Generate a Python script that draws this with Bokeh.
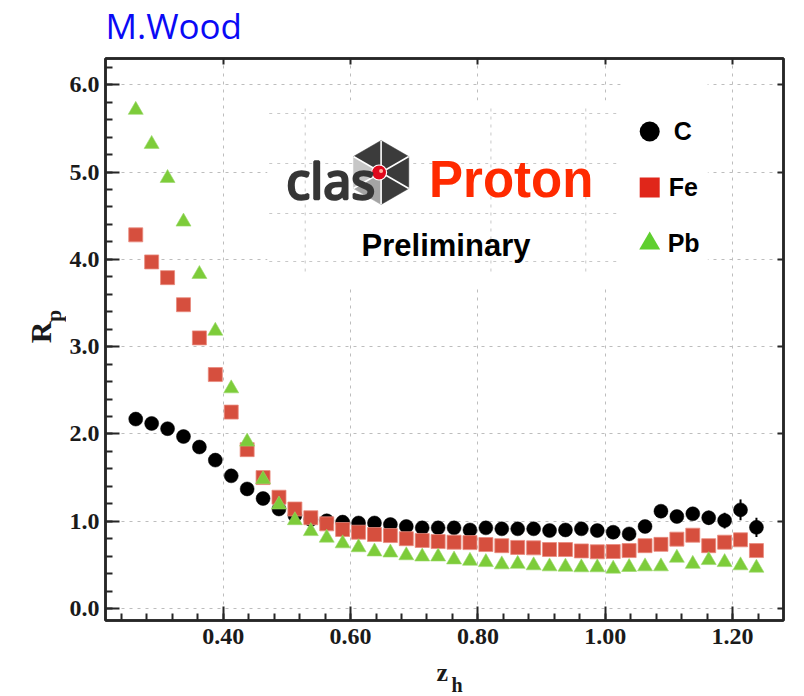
import math

from bokeh.plotting import figure
from bokeh.layouts import column, row
from bokeh.models import (Range1d, LinearAxis, SingleIntervalTicker,
                          PrintfTickFormatter, Label, ColumnDataSource)
from bokeh.core.properties import value
from bokeh.embed import file_html
from bokeh.resources import INLINE

# ---------------------------------------------------------------- data
z_h = [0.2625, 0.2875, 0.3125, 0.3375, 0.3625, 0.3875, 0.4125, 0.4375,
       0.4625, 0.4875, 0.5125, 0.5375, 0.5625, 0.5875, 0.6125, 0.6375,
       0.6625, 0.6875, 0.7125, 0.7375, 0.7625, 0.7875, 0.8125, 0.8375,
       0.8625, 0.8875, 0.9125, 0.9375, 0.9625, 0.9875, 1.0125, 1.0375,
       1.0625, 1.0875, 1.1125, 1.1375, 1.1625, 1.1875, 1.2125, 1.2375]

R_C = [2.17, 2.12, 2.06, 1.97, 1.85, 1.70, 1.52, 1.37, 1.26, 1.14,
       1.065, 1.02, 1.005, 0.99, 0.98, 0.98, 0.962, 0.94, 0.924, 0.924,
       0.924, 0.90, 0.924, 0.913, 0.913, 0.913, 0.893, 0.90, 0.913, 0.893,
       0.874, 0.855, 0.94, 1.115, 1.054, 1.085, 1.04, 1.008, 1.13, 0.93]
R_C_err = [0.02, 0.02, 0.02, 0.02, 0.02, 0.02, 0.02, 0.02, 0.02, 0.02,
           0.02, 0.02, 0.02, 0.02, 0.02, 0.02, 0.02, 0.02, 0.02, 0.02,
           0.02, 0.02, 0.02, 0.02, 0.02, 0.02, 0.02, 0.03, 0.03, 0.03,
           0.03, 0.03, 0.03, 0.04, 0.04, 0.06, 0.08, 0.09, 0.12, 0.11]

R_Fe = [4.28, 3.97, 3.79, 3.48, 3.10, 2.68, 2.25, 1.82, 1.50, 1.275,
        1.14, 1.04, 0.97, 0.905, 0.874, 0.848, 0.836, 0.80, 0.78, 0.767,
        0.76, 0.755, 0.733, 0.72, 0.70, 0.695, 0.676, 0.676, 0.66, 0.65,
        0.653, 0.664, 0.72, 0.735, 0.795, 0.84, 0.72, 0.76, 0.787, 0.664]

R_Pb = [5.71, 5.32, 4.93, 4.43, 3.83, 3.18, 2.52, 1.91, 1.48, 1.19,
        1.01, 0.885, 0.81, 0.745, 0.70, 0.652, 0.64, 0.608, 0.594, 0.594,
        0.56, 0.545, 0.53, 0.504, 0.51, 0.493, 0.481, 0.478, 0.47, 0.47,
        0.455, 0.474, 0.481, 0.481, 0.58, 0.51, 0.553, 0.53, 0.493, 0.466]

targets = ["C", "Fe", "Pb"]

# ---------------------------------------------------------------- page layout (pixels)
W, H = 804, 696
TOP_H, LEFT_W, BOT_H = 50, 66, 40            # strips holding the outer texts
MAIN_W, MAIN_H = W - LEFT_W, H - TOP_H - BOT_H
FRAME_L, FRAME_R, FRAME_T, FRAME_B = 104, 783, 58, 620
X0, X1 = 0.215, 1.280
Y0, Y1 = -0.137, 6.300
FW, FH = FRAME_R - FRAME_L, FRAME_B - FRAME_T
MID = 0.37                                   # em offset between text middle and baseline


def dx(px):
    """page pixel column -> data x"""
    return X0 + (px - FRAME_L) * (X1 - X0) / FW


def dy(py):
    """page pixel row -> data y"""
    return Y1 - (py - FRAME_T) * (Y1 - Y0) / FH


FRAME = "#262626"
GRID = "#bdbdbd"
SERIF = "Liberation Serif"
SANS = "Liberation Sans"


def text_strip(w, h):
    f = figure(width=w, height=h, x_range=Range1d(0, w), y_range=Range1d(0, h),
               output_backend="svg", toolbar_location=None, min_border=0,
               x_axis_location=None, y_axis_location=None)
    f.grid.visible = False
    f.outline_line_color = None
    f.background_fill_color = "white"
    f.border_fill_color = "white"
    return f


# ---------------------------------------------------------------- main plot
p = figure(width=MAIN_W, height=MAIN_H, x_range=Range1d(X0, X1), y_range=Range1d(Y0, Y1),
           output_backend="svg", toolbar_location=None,
           min_border_left=FRAME_L - LEFT_W, min_border_right=W - FRAME_R,
           min_border_top=FRAME_T - TOP_H, min_border_bottom=TOP_H + MAIN_H - FRAME_B)
p.background_fill_color = "white"
p.border_fill_color = "white"
p.outline_line_color = FRAME
p.outline_line_width = 2.5

xt = SingleIntervalTicker(interval=0.2, num_minor_ticks=5)
yt = SingleIntervalTicker(interval=1.0, num_minor_ticks=5)

for ax, tk, fmt in ((p.xaxis[0], xt, "%.2f"), (p.yaxis[0], yt, "%.1f")):
    ax.ticker = tk
    ax.formatter = PrintfTickFormatter(format=fmt)
    ax.axis_line_color = FRAME
    ax.axis_line_width = 2.5
    ax.major_tick_in = 14
    ax.major_tick_out = 0
    ax.minor_tick_in = 7
    ax.minor_tick_out = 0
    ax.major_tick_line_color = FRAME
    ax.major_tick_line_width = 2
    ax.minor_tick_line_color = FRAME
    ax.minor_tick_line_width = 2
    ax.major_label_text_font = SERIF
    ax.major_label_text_font_style = "bold"
    ax.major_label_text_font_size = "24px"
    ax.major_label_text_color = "#1a1a1a"
p.xaxis[0].major_label_standoff = 8
p.yaxis[0].major_label_standoff = 6

# opposite-side axes: short inward ticks only
for side, tk in (("right", SingleIntervalTicker(interval=1.0, num_minor_ticks=5)),
                 ("above", SingleIntervalTicker(interval=0.2, num_minor_ticks=5))):
    ax = LinearAxis(ticker=tk, major_tick_in=6, major_tick_out=0,
                    minor_tick_in=0, minor_tick_out=0,
                    major_tick_line_color=FRAME, major_tick_line_width=2,
                    axis_line_color=FRAME, axis_line_width=2.5,
                    major_label_text_font_size="0px",
                    major_label_text_color=None)
    p.add_layout(ax, side)

p.xgrid.ticker = xt
p.ygrid.ticker = yt
for g in (p.xgrid[0], p.ygrid[0]):
    g.grid_line_color = GRID
    g.grid_line_dash = "3 5"
    g.grid_line_width = 1

# ---------------------------------------------------------------- header panel (logo + legend)
p.quad(left=[dx(266)], right=[dx(707)], top=[dy(100)], bottom=[dy(285)],
       fill_color="white", line_color=None)
p.quad(left=[dx(620)], right=[dx(707)], top=[dy(66)], bottom=[dy(285)],
       fill_color="white", line_color=None)
inner_rows = [113, 163, 213, 261]
inner_cols = [304, 490, 585]
p.segment(x0=[dx(268)] * 4, x1=[dx(620)] * 4,
          y0=[dy(r) for r in inner_rows], y1=[dy(r) for r in inner_rows],
          line_color="#c8c8c8", line_dash="3 5", line_width=1)
p.segment(x0=[dx(c) for c in inner_cols], x1=[dx(c) for c in inner_cols],
          y0=[dy(108)] * 3, y1=[dy(272)] * 3,
          line_color="#c8c8c8", line_dash="3 5", line_width=1)

# hexagon emblem: six sectors, white spokes, red core
hx, hy, hr = 380.0, 172.0, 32.0
verts = []
for k in range(6):
    a = math.radians(90 - 60 * k)
    verts.append((hx + hr * math.cos(a), hy - hr * math.sin(a)))
sector_colors = ["#3b3b3b", "#3b3b3b", "#3b3b3b", "#a4a4a4", "#c6c6c6", "#3b3b3b"]
xs, ys = [], []
for k in range(6):
    v1, v2 = verts[k], verts[(k + 1) % 6]
    xs.append([dx(hx), dx(v1[0]), dx(v2[0])])
    ys.append([dy(hy), dy(v1[1]), dy(v2[1])])
p.patches(xs, ys, fill_color=sector_colors, line_color=sector_colors, line_width=0.5)
p.segment(x0=[dx(hx)] * 6, y0=[dy(hy)] * 6,
          x1=[dx(v[0]) for v in verts], y1=[dy(v[1]) for v in verts],
          line_color="white", line_width=1.6)


def put(x, y_base, text, size, color="black", font=SANS, bold=True, align="left",
        outline=None):
    p.add_layout(Label(x=dx(x), y=dy(y_base - MID * size), text=text, text_font=font,
                       text_font_style="bold" if bold else "normal",
                       text_font_size=f"{size}px", text_color=color,
                       text_outline_color=outline,
                       text_align=align, text_baseline="middle"))


put(285, 198, "clas", 50, color="#363636", font="Noto Sans", bold=False,
    outline="#363636")
p.scatter([dx(378)], [dy(172)], marker="circle", size=15, fill_color="#e0081c",
          line_color="white", line_width=1.2)
p.scatter([dx(380)], [dy(170.5)], marker="circle", size=4, fill_color="#ffb0a0",
          line_color=None)
put(428, 198, "Proton", 51, color="#ff2a00")
put(445, 256, "Preliminary", 31, align="center")

# legend
leg_y = [131, 187, 243]
leg_markers = ["circle", "square", "triangle"]
leg_colors = ["black", "#e0261a", "#5fcf2f"]
leg_sizes = [20, 20, 21]
for yy, mk, col, sz, name, tx in zip(leg_y, leg_markers, leg_colors, leg_sizes,
                                     targets, [673, 668, 667]):
    p.scatter([dx(649)], [dy(yy)], marker=mk, size=sz, fill_color=col, line_color=None)
    put(tx, yy + 9, name, 25)

# ---------------------------------------------------------------- data points
src = ColumnDataSource(dict(
    z=z_h, c=R_C, fe=R_Fe, pb=R_Pb,
    c_lo=[v - e for v, e in zip(R_C, R_C_err)],
    c_hi=[v + e for v, e in zip(R_C, R_C_err)],
))
p.segment(x0="z", x1="z", y0="c_lo", y1="c_hi", source=src,
          line_color="black", line_width=2)
p.scatter("z", "c", source=src, marker="circle", size=14,
          fill_color="black", line_color="black", line_width=0.5)
p.scatter("z", "fe", source=src, marker="square", size=14,
          fill_color="#d64f3e", line_color="#e88a7e", line_width=0.8)
p.scatter("z", "pb", source=src, marker="triangle", size=15,
          fill_color="#7dcc3a", line_color="#9ad86a", line_width=0.6)

# ---------------------------------------------------------------- outer texts
top = text_strip(W, TOP_H)
top.text(x=[105], y=[TOP_H - (38 - MID * 35)], text=["M.Wood"],
         text_font=value("Open Sans"), text_font_size=value("35px"),
         text_color="#0a0af5", text_align="left", text_baseline="middle")

left = text_strip(LEFT_W, MAIN_H)
left_y = lambda py: TOP_H + MAIN_H - py          # page row -> strip data y
left.text(x=[51 - MID * 30], y=[left_y(357)], text=["R"], angle=math.pi / 2,
          text_font=value(SERIF), text_font_style="bold", text_font_size=value("30px"),
          text_color="#1a1a1a", text_align="left", text_baseline="middle")
left.text(x=[61 - MID * 22], y=[left_y(334)], text=["p"], angle=math.pi / 2,
          text_font=value(SERIF), text_font_style="bold", text_font_size=value("22px"),
          text_color="#1a1a1a", text_align="left", text_baseline="middle")

bottom = text_strip(W, BOT_H)
bot_y = lambda py: H - py                        # page row -> strip data y
bottom.text(x=[436], y=[bot_y(672)], text=["z"],
            text_font=value(SERIF), text_font_style="bold", text_font_size=value("26px"),
            text_color="#1a1a1a", text_align="left", text_baseline="middle")
bottom.text(x=[451], y=[bot_y(684)], text=["h"],
            text_font=value(SERIF), text_font_style="bold", text_font_size=value("20px"),
            text_color="#1a1a1a", text_align="left", text_baseline="middle")

page = column(top, row(left, p, spacing=0), bottom, spacing=0)
open("out.html", "w").write(file_html(page, INLINE))
